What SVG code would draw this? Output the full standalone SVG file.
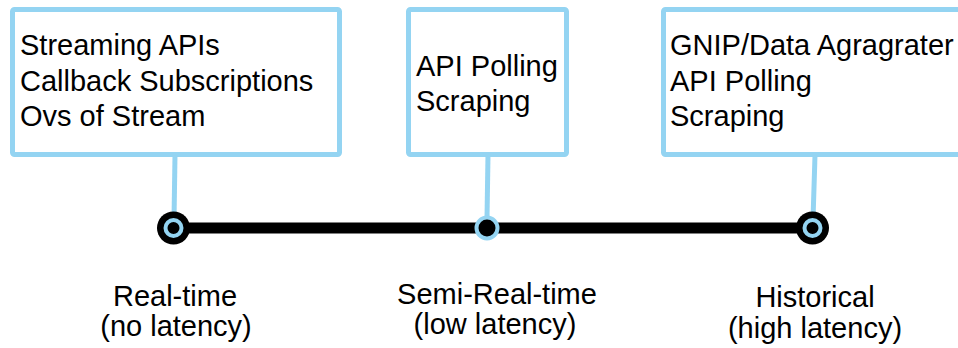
<svg xmlns="http://www.w3.org/2000/svg" width="958" height="348" viewBox="0 0 958 348">
  <style>
    .box { fill: #ffffff; stroke: #94d4f2; stroke-width: 5; }
    .stem { stroke: #94d4f2; stroke-width: 5; fill: none; }
    .axis { stroke: #000000; stroke-width: 11; fill: none; }
    .ring { fill: #000000; stroke: #94d4f2; stroke-width: 4; }
    .dot { fill: #000000; }
    text { font-family: "Liberation Sans", Arial, Helvetica, sans-serif; font-size: 29px; fill: #000000; }
    .mid { text-anchor: middle; }
  </style>

  <!-- timeline connectors -->
  <g id="connectors">
    <line class="axis" x1="173" y1="228" x2="813" y2="228"/>
    <line class="stem" x1="175" y1="155" x2="174" y2="220"/>
    <line class="stem" x1="488" y1="155" x2="487" y2="218"/>
    <line class="stem" x1="815" y1="155" x2="813" y2="220"/>
  </g>

  <!-- real-time source box -->
  <g id="box-realtime">
    <rect class="box" x="12.5" y="9.5" width="327" height="145" rx="2"/>
    <text x="20" y="55">Streaming APIs</text>
    <text x="20" y="90.5">Callback Subscriptions</text>
    <text x="20" y="126">Ovs of Stream</text>
  </g>

  <!-- semi-real-time source box -->
  <g id="box-semi">
    <rect class="box" x="408.5" y="9.5" width="158" height="145" rx="2"/>
    <text x="416" y="76">API Polling</text>
    <text x="416" y="111">Scraping</text>
  </g>

  <!-- historical source box -->
  <g id="box-historical">
    <rect class="box" x="663.5" y="9.5" width="310" height="145" rx="2"/>
    <text x="670" y="55">GNIP/Data Agragrater</text>
    <text x="670" y="90.5">API Polling</text>
    <text x="670" y="126">Scraping</text>
  </g>

  <!-- timeline points -->
  <g id="point-realtime">
    <circle class="dot" cx="173.5" cy="228" r="16.5"/>
    <circle class="ring" cx="173.5" cy="228" r="8"/>
    <text class="mid" x="175" y="306">Real-time</text>
    <text class="mid" x="176" y="336">(no latency)</text>
  </g>

  <g id="point-semi">
    <circle class="ring" cx="487" cy="228" r="10.5"/>
    <text class="mid" x="497" y="304">Semi-Real-time</text>
    <text class="mid" x="495" y="334">(low latency)</text>
  </g>

  <g id="point-historical">
    <circle class="dot" cx="812.5" cy="228" r="16.5"/>
    <circle class="ring" cx="812.5" cy="228" r="8"/>
    <text class="mid" x="815" y="307">Historical</text>
    <text class="mid" x="815" y="338">(high latency)</text>
  </g>
</svg>
